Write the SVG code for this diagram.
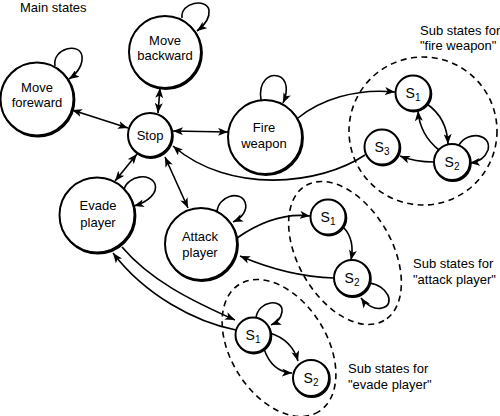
<svg xmlns="http://www.w3.org/2000/svg" width="500" height="416" viewBox="0 0 500 416">
<defs>
<marker id="ah" markerUnits="userSpaceOnUse" markerWidth="11" markerHeight="8" refX="10" refY="4" orient="auto-start-reverse" viewBox="0 0 11 8">
<path d="M0,0 L10,4 L0,8 L2.5,4 z" fill="#000"/>
</marker>
</defs>
<style>
text{font-family:"Liberation Sans",Arial,Helvetica,sans-serif;font-size:13px;fill:#000}
.c{text-anchor:middle}
.s{font-size:14px;text-anchor:middle}
.sub{font-size:10px}
.n{fill:#fff;stroke:#000;stroke-width:2}
.sh{fill:none;stroke:#000;stroke-width:2}
.e{fill:none;stroke:#000;stroke-width:1.6}
.a{marker-end:url(#ah)}
.d{marker-start:url(#ah);marker-end:url(#ah)}
.cl{fill:none;stroke:#000;stroke-width:1.6;stroke-dasharray:6 4.5}
</style>
<rect width="500" height="416" fill="#fff"/>
<text x="20" y="12">Main states</text>
<text x="420" y="35">Sub states for</text>
<text x="420" y="50">"fire weapon"</text>
<text x="413" y="268">Sub states for</text>
<text x="413" y="284">"attack player"</text>
<text x="348" y="373">Sub states for</text>
<text x="348" y="389">"evade player"</text>

<g id="clusters">
<circle id="cluster-fire" class="cl" cx="423" cy="131" r="74"/>
<ellipse id="cluster-attack" class="cl" cx="345" cy="253" rx="78" ry="47" transform="rotate(60 345 253)"/>
<ellipse id="cluster-evade" class="cl" cx="279" cy="348" rx="75" ry="48" transform="rotate(58 279 348)"/>
</g>

<g id="connectors">
<line class="e d" x1="72" y1="110" x2="128" y2="128"/>
<line class="e d" x1="160" y1="88" x2="158" y2="113"/>
<line class="e d" x1="173" y1="131" x2="228" y2="132"/>
<line class="e d" x1="137" y1="154" x2="115" y2="181"/>
<line class="e d" x1="165" y1="157" x2="188" y2="208"/>
<path class="e a" d="M365 155 C320 185 230 195 173 146"/>
<path class="e a" d="M298 118 C320 100 355 88 395 92"/>
<path class="e a" d="M427 104 Q447 118 448 144"/>
<path class="e a" d="M439 150 Q420 135 418 111"/>
<path class="e a" d="M434 162 Q415 162 400 156"/>
<path class="e a" d="M459 145 C468 130 492 134 488 150 C485 158 479 162 470 163"/>
<path class="e a" d="M237 238 C260 222 285 213 310 216"/>
<path class="e a" d="M334 278 C300 277 268 268 240 256"/>
<path class="e a" d="M344 228 Q355 240 351 260"/>
<path class="e a" d="M369 283 C388 285 396 305 382 308 C375 310 366 305 361 298"/>
<path class="e a" d="M122 247 C150 280 190 300 235 320"/>
<path class="e a" d="M236 330 C195 322 145 295 113 253"/>
<path class="e a" d="M256 318 C258 300 284 298 282 312 C281 318 278 322 271 325"/>
<path class="e a" d="M270 333 Q292 340 298 361"/>
<path class="e a" d="M264 349 Q272 372 292 373"/>
<path class="e a" d="M55 66 C52 48 80 42 82 56 C83 64 78 73 69 79"/>
<path class="e a" d="M182 18 C180 2 207 -2 209 10 C210 18 205 25 197 31"/>
<path class="e a" d="M261 100 C258 80 270 74 278 76 C288 79 288 92 283 103"/>
<path class="e a" d="M124 189 C128 176 150 172 155 184 C158 193 148 202 134 206"/>
<path class="e a" d="M217 212 C218 196 240 190 245 202 C248 210 242 218 233 222"/>
</g>

<g id="move-foreward">
<circle class="sh" cx="37.9" cy="100.1" r="36.5"/>
<circle class="n" cx="37" cy="99" r="36.5"/>
<text class="c" x="37" y="92">Move</text>
<text class="c" x="37" y="107">foreward</text>
</g>
<g id="move-backward">
<circle class="sh" cx="165.9" cy="53.1" r="36"/>
<circle class="n" cx="165" cy="52" r="36"/>
<text class="c" x="165" y="45">Move</text>
<text class="c" x="165" y="60">backward</text>
</g>
<g id="stop">
<circle class="sh" cx="150.8" cy="136" r="22"/>
<circle class="n" cx="150" cy="135" r="22"/>
<text class="c" x="150" y="140">Stop</text>
</g>
<g id="fire-weapon">
<circle class="sh" cx="265.9" cy="138.1" r="37"/>
<circle class="n" cx="265" cy="137" r="37"/>
<text class="c" x="264" y="132">Fire</text>
<text class="c" x="264" y="148">weapon</text>
</g>
<g id="evade-player">
<circle class="sh" cx="97.9" cy="216.1" r="37.5"/>
<circle class="n" cx="97" cy="215" r="37.5"/>
<text class="c" x="98" y="210">Evade</text>
<text class="c" x="98" y="227">player</text>
</g>
<g id="attack-player">
<circle class="sh" cx="201.9" cy="245.1" r="36"/>
<circle class="n" cx="201" cy="244" r="36"/>
<text class="c" x="200" y="241">Attack</text>
<text class="c" x="200" y="257">player</text>
</g>

<g id="fire-s1">
<circle class="sh" cx="413.8" cy="94" r="17.5"/>
<circle class="n" cx="413" cy="93" r="17.5"/>
<text class="s" x="413" y="98">S<tspan class="sub" dy="3">1</tspan></text>
</g>
<g id="fire-s2">
<circle class="sh" cx="452.8" cy="163" r="18"/>
<circle class="n" cx="452" cy="162" r="18"/>
<text class="s" x="452" y="167">S<tspan class="sub" dy="3">2</tspan></text>
</g>
<g id="fire-s3">
<circle class="sh" cx="382.8" cy="148" r="17.5"/>
<circle class="n" cx="382" cy="147" r="17.5"/>
<text class="s" x="382" y="152">S<tspan class="sub" dy="3">3</tspan></text>
</g>
<g id="attack-s1">
<circle class="sh" cx="328.8" cy="218" r="17.5"/>
<circle class="n" cx="328" cy="217" r="17.5"/>
<text class="s" x="328" y="222">S<tspan class="sub" dy="3">1</tspan></text>
</g>
<g id="attack-s2">
<circle class="sh" cx="352.8" cy="279" r="18"/>
<circle class="n" cx="352" cy="278" r="18"/>
<text class="s" x="352" y="283">S<tspan class="sub" dy="3">2</tspan></text>
</g>
<g id="evade-s1">
<circle class="sh" cx="253.8" cy="336" r="17.5"/>
<circle class="n" cx="253" cy="335" r="17.5"/>
<text class="s" x="253" y="340">S<tspan class="sub" dy="3">1</tspan></text>
</g>
<g id="evade-s2">
<circle class="sh" cx="311.8" cy="379" r="18"/>
<circle class="n" cx="311" cy="378" r="18"/>
<text class="s" x="311" y="383">S<tspan class="sub" dy="3">2</tspan></text>
</g>
</svg>
